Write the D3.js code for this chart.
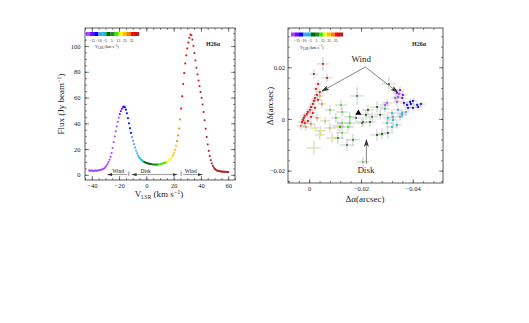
<!DOCTYPE html>
<html lang="en">
<head>
<meta charset="UTF-8">
<title>H26α spectrum and spot map</title>
<script src="https://d3js.org/d3.v7.min.js"></script>
<style>
  body { margin: 0; background: #fff; }
  svg { display: block; }
  text { font-family: "Liberation Serif", "DejaVu Serif", serif; fill: #222; }
</style>
</head>
<body>
<div id="chart"></div>
<script>
// ---- spectrum: channel grid (km/s) and flux per channel (Jy/beam)
var vStart = -42, vStep = 0.75;
var flux = [
  3.4, 3.2, 3.5, 3.1, 3.3, 3.0, 3.4, 3.2,
  3.3, 3.5, 3.6, 3.8, 4.0, 4.3, 4.6, 5.2,
  6.1, 7.2, 8.5, 10.0, 11.8, 14.0, 17.0, 20.8,
  25.5, 29.8, 33.8, 37.6, 41.2, 44.4, 47.2, 49.5,
  51.3, 52.5, 53.0, 52.4, 50.6, 47.8, 44.0, 40.0,
  36.2, 32.6, 29.4, 26.5, 23.8, 21.2, 18.8, 16.7,
  15.0, 13.6, 12.6, 11.8, 11.1, 10.5, 10.0, 9.6,
  9.3, 9.0, 8.8, 8.6, 8.4, 8.3, 8.1, 8.0,
  8.0, 7.9, 8.0, 8.0, 8.1, 8.2, 8.4, 8.6,
  8.8, 9.1, 9.4, 9.8, 10.2, 10.7, 11.3, 12.0,
  12.9, 14.0, 15.4, 17.2, 19.6, 22.6, 26.2, 30.6,
  36.0, 43.0, 51.5, 61.0, 70.5, 79.0, 86.5, 92.8,
  98.2, 102.8, 106.4, 109.0, 108.4, 105.0, 100.2, 94.6,
  88.8, 83.2, 78.0, 73.2, 68.8, 64.4, 59.8, 54.6,
  48.8, 42.4, 35.8, 29.4, 23.6, 18.6, 14.6, 11.4,
  8.9, 7.0, 5.6, 4.6, 3.9, 3.4, 3.1, 2.9,
  2.7, 2.6, 2.6, 2.4, 2.5, 2.3, 2.4, 2.2,
  2.2
];

// ---- velocity colour coding
var colorEdges = [-20, -17, -11, -6, -2, 4, 9, 15, 19, 22, 25, 33];
var colorList = ["#a347ff", "#8000ff", "#0000ff", "#4f9dff", "#00c8d2", "#006400", "#238b23",
                 "#33ee00", "#ffff00", "#ffc000", "#ff8000", "#ff0000", "#b22222"];
var barLabels = ["\u221215", "\u221210", "\u22125", "5", "15", "25", "35"];

// ---- spot map: offsets (arcsec), velocity (km/s), errors (arcsec)
var spotRA = [
  -0.0053, -0.0018, -0.0069, -0.0034, -0.0026, -0.0041, -0.0030, -0.0022, -0.0018, -0.0014,
  -0.0007, -0.0003, 0.0005, 0.0009, 0.0017, 0.0021, 0.0024, 0.0028, 0.0017, 0.0005,
  -0.0007, -0.0014, -0.0022, -0.0034, 0.0032, 0.0013, -0.0007, -0.0030, -0.0049, -0.0041,
  -0.0022, -0.0045, -0.0041, -0.0080, -0.0088, -0.0018, -0.0061, -0.0111, -0.0080, -0.0127,
  -0.0123, -0.0157, -0.0157, -0.0127, -0.0127, -0.0150, -0.0208, -0.0103, -0.0185, -0.0227,
  -0.0243, -0.0208, -0.0235, -0.0262, -0.0169, -0.0204, -0.0262, -0.0281, -0.0111, -0.0119,
  -0.0181, -0.0219, -0.0274, -0.0146, -0.0308, -0.0304, -0.0293, -0.0320, -0.0304, -0.0324,
  -0.0359, -0.0301, -0.0320, -0.0339, -0.0343, -0.0359, -0.0324, -0.0351, -0.0374, -0.0390,
  -0.0401, -0.0378, -0.0417, -0.0382, -0.0401, -0.0421, -0.0432, -0.0393, -0.0366, -0.0339,
  -0.0343, -0.0351, -0.0332, -0.0293, -0.0359, -0.0339, -0.0362, -0.0301, -0.0347
];
var spotDec = [
  0.0213, 0.0174, 0.0159, 0.0135, 0.0116, 0.0104, 0.0093, 0.0081, 0.0070, 0.0058,
  0.0046, 0.0035, 0.0027, 0.0019, 0.0012, 0.0004, -0.0004, -0.0012, -0.0016, -0.0008,
  0.0008, 0.0023, 0.0043, 0.0074, -0.0027, -0.0031, -0.0019, 0.0004, 0.0058, 0.0089,
  -0.0035, -0.0046, -0.0062, -0.0035, -0.0074, -0.0112, -0.0008, -0.0027, 0.0035, 0.0027,
  0.0054, 0.0008, -0.0016, -0.0016, -0.0054, -0.0031, -0.0166, 0.0004, 0.0089, 0.0035,
  0.0008, -0.0012, -0.0012, 0.0046, -0.0081, -0.0016, -0.0062, -0.0058, -0.0074, -0.0031,
  0.0004, 0.0016, 0.0016, -0.0101, 0.0135, -0.0054, 0.0039, 0.0023, 0.0004, -0.0004,
  0.0016, -0.0016, -0.0031, -0.0023, 0.0035, 0.0023, 0.0008, 0.0008, 0.0027, 0.0066,
  0.0070, 0.0054, 0.0054, 0.0043, 0.0043, 0.0046, 0.0058, 0.0058, 0.0062, 0.0101,
  0.0085, 0.0112, 0.0081, 0.0054, 0.0081, 0.0066, 0.0093, 0.0062, 0.0097
];
var spotVel = [
  36, 35, 34, 32, 30, 29, 31, 28, 30, 27,
  29, 26, 28, 26, 27, 25, 26, 25, 27, 28,
  29, 30, 31, 33, 23, 22, 23, 22, 23, 19,
  18, 17, 16, 19, 18, 17, 20, 16, 12, 11,
  13, 10, 12, 14, 11, 13, 10, 14, 5, 3,
  6, 4, 2, 1, 7, 5, 0, -1, 8, 7,
  4, 2, 0, 6, 6, 1, -4, -3, -5, -4,
  -5, -3, -4, -5, -8, -9, -7, -10, -9, -14,
  -15, -13, -16, -12, -14, -15, -16, -17, -12, -20,
  -22, -19, -24, -21, -18, -26, -20, -23, -28
];
var spotErrRA = [
  0.0023, 0.0015, 0.0019, 0.0012, 0.0012, 0.0015, 0.0012, 0.0012, 0.0012, 0.0012,
  0.0012, 0.0012, 0.0012, 0.0012, 0.0012, 0.0012, 0.0012, 0.0015, 0.0012, 0.0012,
  0.0012, 0.0012, 0.0012, 0.0015, 0.0015, 0.0015, 0.0015, 0.0015, 0.0015, 0.0015,
  0.0019, 0.0019, 0.0019, 0.0023, 0.0023, 0.0027, 0.0019, 0.0023, 0.0019, 0.0023,
  0.0023, 0.0023, 0.0023, 0.0019, 0.0023, 0.0023, 0.0023, 0.0019, 0.0027, 0.0023,
  0.0023, 0.0023, 0.0023, 0.0027, 0.0027, 0.0019, 0.0027, 0.0023, 0.0023, 0.0019,
  0.0019, 0.0023, 0.0023, 0.0027, 0.0027, 0.0023, 0.0019, 0.0019, 0.0019, 0.0019,
  0.0019, 0.0019, 0.0019, 0.0019, 0.0015, 0.0015, 0.0015, 0.0015, 0.0015, 0.0015,
  0.0015, 0.0015, 0.0015, 0.0015, 0.0015, 0.0015, 0.0015, 0.0015, 0.0015, 0.0015,
  0.0015, 0.0015, 0.0015, 0.0019, 0.0015, 0.0015, 0.0015, 0.0019, 0.0015
];
var spotErrDec = [
  0.0027, 0.0019, 0.0015, 0.0015, 0.0012, 0.0012, 0.0012, 0.0015, 0.0012, 0.0012,
  0.0012, 0.0012, 0.0012, 0.0012, 0.0012, 0.0015, 0.0012, 0.0012, 0.0012, 0.0012,
  0.0012, 0.0012, 0.0012, 0.0012, 0.0015, 0.0015, 0.0012, 0.0015, 0.0015, 0.0015,
  0.0015, 0.0019, 0.0019, 0.0019, 0.0019, 0.0027, 0.0015, 0.0019, 0.0019, 0.0019,
  0.0019, 0.0019, 0.0019, 0.0019, 0.0023, 0.0019, 0.0019, 0.0019, 0.0035, 0.0019,
  0.0019, 0.0019, 0.0019, 0.0023, 0.0023, 0.0015, 0.0023, 0.0023, 0.0023, 0.0019,
  0.0019, 0.0019, 0.0019, 0.0023, 0.0027, 0.0023, 0.0015, 0.0015, 0.0015, 0.0015,
  0.0015, 0.0019, 0.0019, 0.0015, 0.0015, 0.0015, 0.0015, 0.0015, 0.0015, 0.0012,
  0.0012, 0.0012, 0.0012, 0.0012, 0.0012, 0.0012, 0.0012, 0.0012, 0.0012, 0.0015,
  0.0015, 0.0015, 0.0015, 0.0015, 0.0015, 0.0015, 0.0015, 0.0015, 0.0015
];
var centre = [-0.0190, 0.0023];   // black triangle

// ---- tick values
var velTicks = [-40, -20, 0, 20, 40, 60];
var fluxTicks = [0, 20, 40, 60, 80, 100];
var raTicks = [0, -0.02, -0.04];
var decTicks = [-0.02, 0, 0.02];

var W = 529, H = 323;
var svg = d3.select('#chart').append('svg').attr('width', W).attr('height', H);

var defs = svg.append('defs');
defs.append('marker').attr('id', 'bigHead')
    .attr('markerUnits', 'userSpaceOnUse').attr('markerWidth', 8).attr('markerHeight', 5)
    .attr('refX', 7).attr('refY', 2.5).attr('orient', 'auto-start-reverse')
  .append('path').attr('d', 'M0,0 L8,2.5 L0,5 L2,2.5 Z').attr('fill', '#333');
defs.append('marker').attr('id', 'smallHead')
    .attr('markerUnits', 'userSpaceOnUse').attr('markerWidth', 5).attr('markerHeight', 3)
    .attr('refX', 4.5).attr('refY', 1.5).attr('orient', 'auto-start-reverse')
  .append('path').attr('d', 'M0,0 L5,1.5 L0,3 Z').attr('fill', '#333');

var velColor = d3.scaleThreshold().domain(colorEdges).range(colorList);

// frame with inward major/minor ticks on all four sides
function addAxes(g, x, y, xMajor, xMinor, yMajor, yMinor, xFmt, yFmt, xPad, yPad) {
  var xl = d3.min(x.range()), xr = d3.max(x.range());
  var yt = d3.min(y.range()), yb = d3.max(y.range());
  var ax = g.append('g').attr('class', 'axes');
  ax.append('g').attr('transform', 'translate(0,' + yb + ')')
    .call(d3.axisBottom(x).tickValues(xMinor).tickSize(-2).tickFormat(''));
  ax.append('g').attr('transform', 'translate(0,' + yb + ')')
    .call(d3.axisBottom(x).tickValues(xMajor).tickSize(-4).tickPadding(xPad).tickFormat(xFmt));
  ax.append('g').attr('transform', 'translate(0,' + yt + ')')
    .call(d3.axisTop(x).tickValues(xMinor).tickSize(-2).tickFormat(''));
  ax.append('g').attr('transform', 'translate(0,' + yt + ')')
    .call(d3.axisTop(x).tickValues(xMajor).tickSize(-4).tickFormat(''));
  ax.append('g').attr('transform', 'translate(' + xl + ',0)')
    .call(d3.axisLeft(y).tickValues(yMinor).tickSize(-2).tickFormat(''));
  ax.append('g').attr('transform', 'translate(' + xl + ',0)')
    .call(d3.axisLeft(y).tickValues(yMajor).tickSize(-4).tickPadding(yPad).tickFormat(yFmt));
  ax.append('g').attr('transform', 'translate(' + xr + ',0)')
    .call(d3.axisRight(y).tickValues(yMinor).tickSize(-2).tickFormat(''));
  ax.append('g').attr('transform', 'translate(' + xr + ',0)')
    .call(d3.axisRight(y).tickValues(yMajor).tickSize(-4).tickFormat(''));
  ax.selectAll('.domain').remove();
  ax.selectAll('.tick line').attr('stroke', '#333').attr('stroke-width', 0.6);
  ax.selectAll('.tick text').attr('font-size', 6.5).attr('fill', '#222');
  g.append('rect').attr('x', xl).attr('y', yt).attr('width', xr - xl).attr('height', yb - yt)
    .attr('fill', 'none').attr('stroke', '#333').attr('stroke-width', 0.8);
}

// small velocity colour bar in the top-left corner of a panel
function addColorBar(g, x0, x1, y0) {
  var band = d3.scaleBand().domain(d3.range(colorList.length)).range([x0, x1]);
  g.selectAll('.cbox').data(colorList).enter().append('rect')
    .attr('x', function(d, i) { return band(i); }).attr('y', y0)
    .attr('width', band.bandwidth() + 0.2).attr('height', 4)
    .attr('fill', function(d) { return d; });
  var lab = d3.scalePoint().domain(barLabels).range([x0 + 6, x0 + (x1 - x0) * 0.86]);
  g.selectAll('.clab').data(barLabels).enter().append('text')
    .attr('x', function(d) { return lab(d); }).attr('y', y0 + 9.5)
    .attr('text-anchor', 'middle').attr('font-size', 3.8).text(function(d) { return d; });
  var t = g.append('text').attr('x', x0 + 9).attr('y', y0 + 16).attr('font-size', 4.2);
  t.append('tspan').text('V');
  t.append('tspan').attr('font-size', 3).attr('dy', 1).text('LSR');
  t.append('tspan').attr('dy', -1).text(' (km s');
  t.append('tspan').attr('font-size', 3).attr('dy', -1.5).text('\u22121');
  t.append('tspan').attr('dy', 1.5).text(')');
}

// ================= left panel: spectrum =================
var xV = d3.scaleLinear().domain([-45, 65]).range([85, 235]);
var yF = d3.scaleLinear().domain([-4, 114]).range([180, 28]);
var left = svg.append('g');

addAxes(left, xV, yF, velTicks, d3.range(-45, 66, 5), fluxTicks, d3.range(0, 115, 5),
        d3.format('d'), d3.format('d'), 3, 4.5);

var chan = flux.map(function(f, i) { return { v: vStart + i * vStep, f: f }; });
left.selectAll('.chan').data(chan).enter().append('rect')
  .attr('x', function(d) { return xV(d.v) - 0.9; })
  .attr('y', function(d) { return yF(d.f) - 0.9; })
  .attr('width', 1.8).attr('height', 1.8)
  .attr('fill', function(d) { return velColor(d.v); });

// wind / disk ranges along the bottom
[-12.8, 25.5].forEach(function(v) {
  left.append('line').attr('x1', xV(v)).attr('x2', xV(v)).attr('y1', yF(2.6)).attr('y2', yF(-0.8))
    .attr('stroke', '#333').attr('stroke-width', 0.6);
});
left.append('line').attr('x1', xV(-14)).attr('x2', xV(-28.5)).attr('y1', yF(0.2)).attr('y2', yF(0.2))
  .attr('stroke', '#333').attr('stroke-width', 0.5).attr('marker-end', 'url(#smallHead)');
left.append('line').attr('x1', xV(-10.5)).attr('x2', xV(22.5)).attr('y1', yF(0.2)).attr('y2', yF(0.2))
  .attr('stroke', '#333').attr('stroke-width', 0.5)
  .attr('marker-start', 'url(#smallHead)').attr('marker-end', 'url(#smallHead)');
left.append('line').attr('x1', xV(27)).attr('x2', xV(41)).attr('y1', yF(0.2)).attr('y2', yF(0.2))
  .attr('stroke', '#333').attr('stroke-width', 0.5).attr('marker-end', 'url(#smallHead)');
[['Wind', -20.7], ['Disk', -0.5], ['Wind', 32.6]].forEach(function(n) {
  left.append('text').attr('x', xV(n[1])).attr('y', yF(1.4)).attr('text-anchor', 'middle')
    .attr('font-size', 5.5).text(n[0]);
});

addColorBar(left, 86, 139, 32);
left.append('text').attr('x', 213).attr('y', 46).attr('text-anchor', 'middle')
  .attr('font-size', 6).attr('font-weight', 'bold').text('H26\u03b1');

var fl = left.append('text').attr('transform', 'translate(64,104) rotate(-90)')
  .attr('text-anchor', 'middle').attr('font-size', 9);
fl.append('tspan').text('Flux  (Jy beam');
fl.append('tspan').attr('font-size', 6).attr('dy', -3.5).text('\u22121');
fl.append('tspan').attr('dy', 3.5).text(')');

var vl = left.append('text').attr('x', 159).attr('y', 197).attr('text-anchor', 'middle').attr('font-size', 9);
vl.append('tspan').text('V');
vl.append('tspan').attr('font-size', 5.5).attr('dy', 2).text('LSR');
vl.append('tspan').attr('dy', -2).text('  (km  s');
vl.append('tspan').attr('font-size', 6).attr('dy', -3.5).text('\u22121');
vl.append('tspan').attr('dy', 3.5).text(')');

// ================= right panel: spot map =================
var xA = d3.scaleLinear().domain([0.0082, -0.0517]).range([288, 443]);
var yD = d3.scaleLinear().domain([-0.0248, 0.0352]).range([183, 28]);
var right = svg.append('g');

var raMinor = d3.range(-12, 3).map(function(k) { return k * 0.004; });
var decMinor = d3.range(-6, 9).map(function(k) { return k * 0.004; });
var offFmt = function(d) { return Math.abs(d) < 1e-9 ? '0' : d3.format('.2f')(d); };
addAxes(right, xA, yD, raTicks, raMinor, decTicks, decMinor, offFmt, offFmt, 3.5, 3);

var spots = spotRA.map(function(ra, i) {
  return { ra: ra, dec: spotDec[i], v: spotVel[i], era: spotErrRA[i], edec: spotErrDec[i] };
});
var bars = right.append('g').attr('stroke', '#999').attr('stroke-width', 0.5);
spots.forEach(function(d) {
  bars.append('line').attr('x1', xA(d.ra - d.era)).attr('x2', xA(d.ra + d.era))
    .attr('y1', yD(d.dec)).attr('y2', yD(d.dec));
  bars.append('line').attr('x1', xA(d.ra)).attr('x2', xA(d.ra))
    .attr('y1', yD(d.dec - d.edec)).attr('y2', yD(d.dec + d.edec));
});
right.selectAll('.spot').data(spots).enter().append('rect')
  .attr('x', function(d) { return xA(d.ra) - 0.9; })
  .attr('y', function(d) { return yD(d.dec) - 0.9; })
  .attr('width', 1.8).attr('height', 1.8)
  .attr('fill', function(d) { return velColor(d.v); });

right.append('path').attr('d', d3.symbol().type(d3.symbolTriangle).size(16))
  .attr('transform', 'translate(' + xA(centre[0]) + ',' + yD(centre[1]) + ')').attr('fill', '#000');

// Wind / Disk annotations
right.append('text').attr('x', xA(-0.0201)).attr('y', yD(0.0222)).attr('text-anchor', 'middle')
  .attr('font-size', 9).text('Wind');
[[-0.0050, 0.0108], [-0.0341, 0.0104]].forEach(function(t) {
  right.append('line').attr('x1', xA(-0.0217)).attr('y1', yD(0.0201))
    .attr('x2', xA(t[0])).attr('y2', yD(t[1]))
    .attr('stroke', '#333').attr('stroke-width', 0.6).attr('marker-end', 'url(#bigHead)');
});
right.append('text').attr('x', xA(-0.0219)).attr('y', yD(-0.0210)).attr('text-anchor', 'middle')
  .attr('font-size', 9).text('Disk');
right.append('line').attr('x1', xA(-0.0221)).attr('y1', yD(-0.0174))
  .attr('x2', xA(-0.0221)).attr('y2', yD(-0.0081))
  .attr('stroke', '#333').attr('stroke-width', 0.6).attr('marker-end', 'url(#bigHead)');

addColorBar(right, 291, 343, 32.5);
right.append('text').attr('x', 419).attr('y', 46).attr('text-anchor', 'middle')
  .attr('font-size', 6).attr('font-weight', 'bold').text('H26\u03b1');

right.append('text').attr('transform', 'translate(273,106) rotate(-90)')
  .attr('text-anchor', 'middle').attr('font-size', 9).text('\u0394\u03b4(arcsec)');
right.append('text').attr('x', 365).attr('y', 202).attr('text-anchor', 'middle')
  .attr('font-size', 9).text('\u0394\u03b1(arcsec)');
</script>
</body>
</html>
